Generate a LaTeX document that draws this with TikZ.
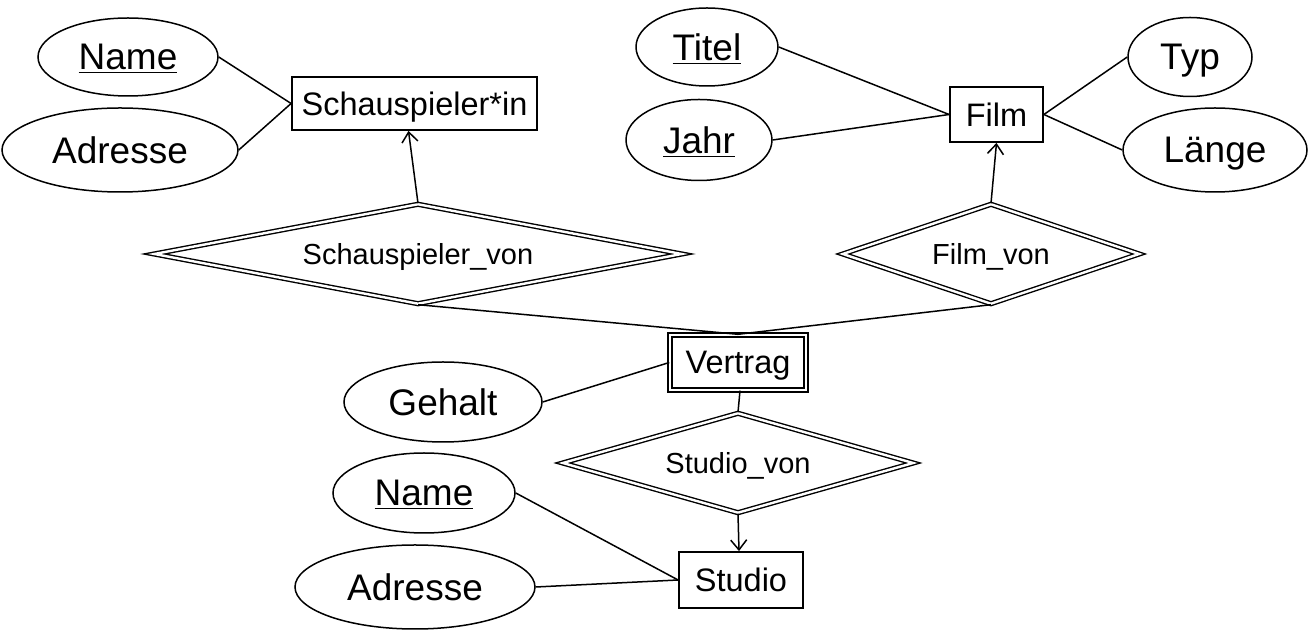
\documentclass[tikz,border=0pt]{standalone}
\usepackage{fontspec}
\setmainfont{Liberation Sans}
\usetikzlibrary{shapes.geometric,arrows.meta}
\begin{document}
\begin{tikzpicture}[x=0.5pt,y=-0.5pt,
  attr/.style={draw,ellipse,line width=0.75pt,inner sep=0pt,text depth=0pt,font=\fontsize{18.5pt}{20pt}\selectfont},
  ent/.style={draw,rectangle,line width=0.9pt,inner sep=0pt,text depth=0pt,font=\fontsize{16.25pt}{18pt}\selectfont},
  rel/.style={draw,diamond,double,double distance=1.2pt,line width=0.7pt,inner sep=0pt,text depth=0pt,font=\fontsize{14.5pt}{16pt}\selectfont},
  conn/.style={line width=0.75pt},
  arr/.style={line width=0.75pt,-{Straight Barb[length=5pt,width=8pt]}}]
\useasboundingbox (0,0) rectangle (1314,635);
% entities
\node[ent,minimum width=122.5pt,minimum height=26.5pt] (S) at (414.5,103.5) {Schauspieler*in};
\node[ent,minimum width=46.5pt,minimum height=27.5pt] (F) at (996.5,114.5) {Film};
\node[ent,double,double distance=1.2pt,line width=0.7pt,minimum width=68pt,minimum height=27.5pt] (V) at (738,362.5) {Vertrag};
\node[ent,minimum width=62pt,minimum height=28pt] (St) at (741,580) {Studio};
% attributes
\node[attr,minimum width=90pt,minimum height=39pt] (n1) at (128,57) {\underline{Name}};
\node[attr,minimum width=118pt,minimum height=42pt] (a1) at (120,150) {Adresse};
\node[attr,minimum width=71pt,minimum height=39pt] (ti) at (707,47) {\underline{Titel}};
\node[attr,minimum width=73pt,minimum height=40.5pt] (ja) at (699,140) {\underline{Jahr}};
\node[attr,minimum width=62pt,minimum height=39.5pt] (ty) at (1190,57) {Typ};
\node[attr,minimum width=92pt,minimum height=42pt] (la) at (1215,150) {Länge};
\node[attr,minimum width=99pt,minimum height=40pt] (ge) at (443,402) {Gehalt};
\node[attr,minimum width=91pt,minimum height=40pt] (n2) at (424,493) {\underline{Name}};
\node[attr,minimum width=120pt,minimum height=42pt] (a2) at (415,587) {Adresse};
% relationships
\node[rel,aspect=5.4,minimum width=264pt,minimum height=50pt] (SV) at (418,254) {Schauspieler\_von};
\node[rel,aspect=3,minimum width=148.5pt,minimum height=50pt] (FV) at (991,254) {Film\_von};
\node[rel,aspect=3.6,minimum width=175.5pt,minimum height=50pt] (StV) at (738,463) {Studio\_von};
% connectors
\draw[conn] (n1.east) -- (S.west);
\draw[conn] (a1.east) -- (S.west);
\draw[conn] (ti.east) -- (F.west);
\draw[conn] (ja.east) -- (F.west);
\draw[conn] (ty.west) -- (F.east);
\draw[conn] (la.west) -- (F.east);
\draw[arr] (SV.north) -- ([xshift=-3pt]S.south);
\draw[arr] (FV.north) -- (F.south);
\draw[conn] (SV.south) -- (V.north);
\draw[conn] (FV.south) -- (V.north);
\draw[conn] (ge.east) -- (V.west);
\draw[conn] ([xshift=1pt]V.south) -- (StV.north);
\draw[arr] (StV.south) -- ([xshift=-1pt]St.north);
\draw[conn] (n2.east) -- (St.west);
\draw[conn] (a2.east) -- (St.west);
\end{tikzpicture}
\end{document}
